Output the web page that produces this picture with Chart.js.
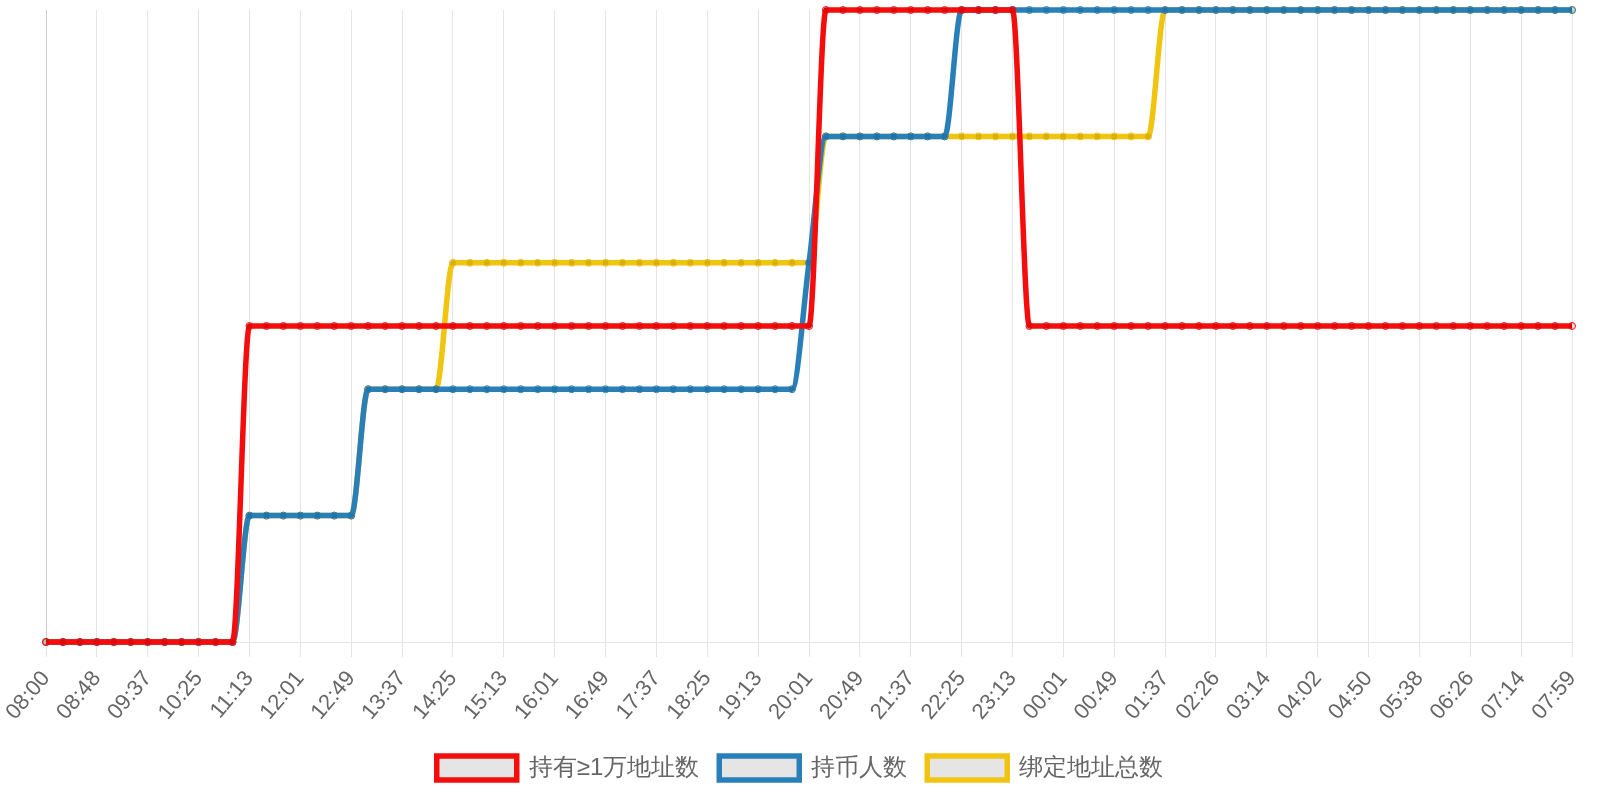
<!DOCTYPE html>
<html>
<head>
<meta charset="utf-8">
<script src="https://cdn.jsdelivr.net/npm/chart.js@4.4.1/dist/chart.umd.min.js"></script>
<style>
html,body{margin:0;padding:0;background:#ffffff;}
#wrap{width:1600px;height:800px;}
</style>
</head>
<body>
<div id="wrap"><canvas id="c" width="1600" height="800"></canvas></div>
<script>
// time of each sample (every 3rd one is shown on the axis)
const timeLabels = [
  '08:00','08:16','08:32','08:48','09:04','09:20','09:37','09:53','10:09','10:25',
  '10:41','10:57','11:13','11:29','11:45','12:01','12:17','12:33','12:49','13:05',
  '13:21','13:37','13:53','14:09','14:25','14:41','14:57','15:13','15:29','15:45',
  '16:01','16:17','16:33','16:49','17:05','17:21','17:37','17:53','18:09','18:25',
  '18:41','18:57','19:13','19:29','19:45','20:01','20:17','20:33','20:49','21:05',
  '21:21','21:37','21:53','22:09','22:25','22:41','22:57','23:13','23:29','23:45',
  '00:01','00:17','00:33','00:49','01:05','01:21','01:37','01:53','02:10','02:26',
  '02:42','02:58','03:14','03:30','03:46','04:02','04:18','04:34','04:50','05:06',
  '05:22','05:38','05:54','06:10','06:26','06:42','06:58','07:14','07:29','07:44',
  '07:59'
];

const seriesNames = ['持有≥1万地址数', '持币人数', '绑定地址总数'];

// 持有≥1万地址数
const holders10k = [
  0,0,0,0,0,0,0,0,0,0,
  0,0,1,1,1,1,1,1,1,1,
  1,1,1,1,1,1,1,1,1,1,
  1,1,1,1,1,1,1,1,1,1,
  1,1,1,1,1,1,2,2,2,2,
  2,2,2,2,2,2,2,2,1,1,
  1,1,1,1,1,1,1,1,1,1,
  1,1,1,1,1,1,1,1,1,1,
  1,1,1,1,1,1,1,1,1,1,
  1
];

// 持币人数
const holders = [
  0,0,0,0,0,0,0,0,0,0,
  0,0,1,1,1,1,1,1,1,2,
  2,2,2,2,2,2,2,2,2,2,
  2,2,2,2,2,2,2,2,2,2,
  2,2,2,2,2,3,4,4,4,4,
  4,4,4,4,5,5,5,5,5,5,
  5,5,5,5,5,5,5,5,5,5,
  5,5,5,5,5,5,5,5,5,5,
  5,5,5,5,5,5,5,5,5,5,
  5
];

// 绑定地址总数
const boundTotal = [
  0,0,0,0,0,0,0,0,0,0,
  0,0,1,1,1,1,1,1,1,2,
  2,2,2,2,3,3,3,3,3,3,
  3,3,3,3,3,3,3,3,3,3,
  3,3,3,3,3,3,4,4,4,4,
  4,4,4,4,4,4,4,4,4,4,
  4,4,4,4,4,4,5,5,5,5,
  5,5,5,5,5,5,5,5,5,5,
  5,5,5,5,5,5,5,5,5,5,
  5
];

const colors = ['rgb(245,12,12)', '#2980b9', '#f1c40f'];
const gridColor = 'rgba(0,0,0,0.1)';

function ds(label, data, color, axis) {
  return {
    label: label,
    data: data,
    yAxisID: axis,
    borderColor: color,
    backgroundColor: 'rgba(0,0,0,0.1)',
    borderWidth: 5.5,
    pointRadius: 3.5,
    pointBorderWidth: 1,
    cubicInterpolationMode: 'monotone',
    fill: false,
    clip: false
  };
}

new Chart(document.getElementById('c'), {
  type: 'line',
  data: {
    labels: timeLabels,
    datasets: [
      ds(seriesNames[0], holders10k, colors[0], 'y2'),
      ds(seriesNames[1], holders, colors[1], 'y'),
      ds(seriesNames[2], boundTotal, colors[2], 'y')
    ]
  },
  options: {
    responsive: false,
    animation: false,
    devicePixelRatio: 1,
    layout: { padding: { top: 10, left: 10, right: 10, bottom: 10 } },
    plugins: {
      legend: {
        position: 'bottom',
        labels: { boxWidth: 80, color: '#666', font: { size: 24 }, padding: 20 }
      },
      tooltip: { enabled: false }
    },
    scales: {
      x: {
        grid: {
          color: (c) => (c.index % 3 === 0 ? gridColor : 'rgba(0,0,0,0)'),
          tickLength: 15
        },
        border: { color: gridColor },
        ticks: {
          autoSkip: false,
          maxRotation: 50,
          minRotation: 50,
          padding: 9,
          color: '#666',
          font: { size: 22 },
          callback: function (v, i) { return i % 3 === 0 ? this.getLabelForValue(v) : ''; }
        },
        afterFit: (s) => { s.height = 94; s.paddingLeft = 46; s.paddingRight = 28; }
      },
      y: {
        display: true,
        min: 0, max: 5,
        grid: { display: false },
        border: { display: true, color: gridColor },
        ticks: { display: false }
      },
      y2: {
        display: false,
        min: 0, max: 2
      }
    }
  }
});
</script>
</body>
</html>
